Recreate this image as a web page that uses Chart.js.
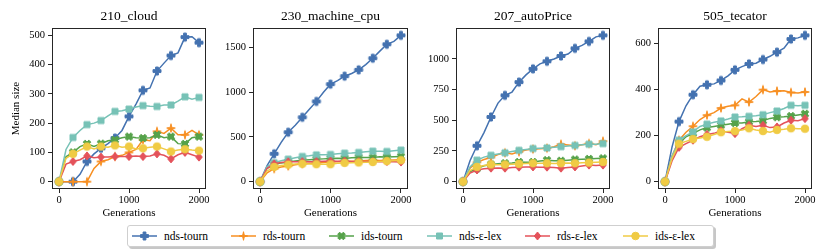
<!DOCTYPE html>
<html>
<head>
<meta charset="utf-8">
<script src="https://cdn.jsdelivr.net/npm/chart.js@4/dist/chart.umd.min.js"></script>
<style>
  body { margin: 0; width: 830px; height: 249px; background: #fff; position: relative; overflow: hidden;
         font-family: "Liberation Serif", "DejaVu Serif", serif; color: #000; }
  canvas { position: absolute; top: 0; }
  .ptitle { position: absolute; top: 7px; font-size: 13.5px; line-height: 17px; text-align: center; }
  #legend { position: absolute; left: 127px; top: 225px; width: 585px; height: 20px; border: 1px solid #cfcfcf;
            border-radius: 3px; background: #fff; box-shadow: 2px 2px 0 rgba(0,0,0,0.22); }
  .item { position: absolute; top: 0; height: 20px; }
  .item canvas { position: absolute; top: 4px; left: 0; }
  .item span { position: absolute; top: 2px; font-size: 11.5px; line-height: 16px; white-space: nowrap; }
</style>
</head>
<body>
<div id="legend"></div>
<script>
// x values (generations)
const generations = [0,100,200,300,400,500,600,700,800,900,1000,1100,1200,1300,1400,1500,1600,1700,1800,1900,2000];
const seriesNames = ['nds-tourn', 'rds-tourn', 'ids-tourn', 'nds-ε-lex', 'rds-ε-lex', 'ids-ε-lex'];
const seriesColors = ['#4472b0', '#f78f22', '#55a24a', '#77c2b6', '#e4525a', '#f0cb44'];
const seriesMarkers = ['plus', 'star', 'x', 'square', 'diamond', 'circle'];

// 210_cloud
const cloudNdsTourn = [0,0,0,25,69,95,114,130,149,175,223,265,312,320,378,405,431,440,494,495,475];
const cloudRdsTourn = [0,0,0,0,0,45,69,75,86,90,100,110,143,140,172,165,183,160,160,175,160];
const cloudIdsTourn = [0,85,100,120,129,120,130,140,143,150,154,150,149,150,160,150,154,130,129,150,154];
const cloudNdsLex = [0,110,151,175,195,200,209,225,240,242,248,255,260,258,257,262,262,275,290,282,288];
const cloudRdsLex = [0,60,69,75,88,82,84,84,86,86,86,88,86,88,95,90,78,92,100,92,84];
const cloudIdsLex = [0,80,95,108,120,112,120,118,124,118,120,112,114,118,120,112,103,108,111,108,106];

// 230_machine_cpu
const cpuNdsTourn = [0,180,312,440,553,630,720,810,898,1000,1091,1130,1180,1210,1251,1310,1381,1460,1537,1570,1637];
const cpuRdsTourn = [0,100,145,165,175,190,200,205,210,215,220,222,225,228,230,236,240,238,240,242,245];
const cpuIdsTourn = [0,150,190,210,220,232,240,245,250,255,260,262,260,268,270,270,270,278,275,280,282];
const cpuNdsLex = [0,170,212,235,252,268,282,290,300,302,304,312,319,322,327,335,341,340,338,345,353];
const cpuRdsLex = [0,150,200,215,223,222,225,224,225,228,230,228,230,226,225,226,225,223,225,222,220];
const cpuIdsLex = [0,120,165,180,190,198,200,198,195,196,195,205,210,212,215,218,220,226,230,235,240];

// 207_autoPrice
const autoNdsTourn = [0,170,292,400,527,640,703,730,811,870,919,960,981,1000,1024,1040,1086,1110,1143,1180,1192];
const autoRdsTourn = [0,110,157,180,197,220,235,225,243,258,265,268,273,285,305,298,292,300,311,300,330];
const autoIdsTourn = [0,80,108,130,140,145,150,152,160,158,160,168,175,170,170,175,180,182,185,188,190];
const autoNdsLex = [0,120,175,200,215,225,235,245,255,262,270,272,275,280,285,290,295,300,305,305,310];
const autoRdsLex = [0,70,95,105,110,112,110,115,118,120,120,118,118,115,110,115,120,128,135,132,135];
const autoIdsLex = [0,90,120,132,140,138,140,142,145,148,150,150,150,148,150,152,150,153,155,158,160];

// 505_tecator
const tecNdsTourn = [0,150,261,330,378,415,421,425,440,460,486,500,512,515,531,545,563,580,620,625,636];
const tecRdsTourn = [0,110,180,215,241,270,289,300,320,328,332,360,346,370,400,390,394,395,388,385,390];
const tecIdsTourn = [0,100,165,195,210,225,235,240,245,250,255,255,260,262,265,275,280,282,285,290,295];
const tecNdsLex = [0,110,180,200,216,240,250,258,264,272,281,282,284,286,291,300,307,318,332,330,332];
const tecRdsLex = [0,90,149,165,180,195,205,210,221,215,209,230,245,240,245,235,238,255,267,265,274];
const tecIdsLex = [0,100,165,175,185,190,195,205,215,218,220,225,232,225,220,215,225,228,232,230,230];

const panels = [
  { title: '210_cloud', left: 0, yw: 52, plotW: 154, ymin: -25, ymax: 525, yticks: [0,100,200,300,400,500],
    ylabel: 'Median size', series: [cloudNdsTourn, cloudRdsTourn, cloudIdsTourn, cloudNdsLex, cloudRdsLex, cloudIdsLex] },
  { title: '230_machine_cpu', left: 213, yw: 40, plotW: 155, ymin: -82, ymax: 1719, yticks: [0,500,1000,1500],
    series: [cpuNdsTourn, cpuRdsTourn, cpuIdsTourn, cpuNdsLex, cpuRdsLex, cpuIdsLex] },
  { title: '207_autoPrice', left: 416, yw: 40, plotW: 154, ymin: -60, ymax: 1252, yticks: [0,250,500,750,1000],
    series: [autoNdsTourn, autoRdsTourn, autoIdsTourn, autoNdsLex, autoRdsLex, autoIdsLex] },
  { title: '505_tecator', left: 618, yw: 40, plotW: 154, ymin: -32, ymax: 668, yticks: [0,200,400,600],
    series: [tecNdsTourn, tecRdsTourn, tecIdsTourn, tecNdsLex, tecRdsLex, tecIdsLex] }
];

const FONT = '"Liberation Serif", "DejaVu Serif", serif';
const INK = '#262626';

// draw one marker shape centred at (cx, cy)
function drawMarker(ctx, shape, color, cx, cy) {
  ctx.fillStyle = color;
  ctx.strokeStyle = color;
  ctx.lineWidth = 1;
  ctx.beginPath();
  if (shape === 'plus' || shape === 'x') {
    const r = 4, w = 1.4;
    const pts = [[-w,-r],[w,-r],[w,-w],[r,-w],[r,w],[w,w],[w,r],[-w,r],[-w,w],[-r,w],[-r,-w],[-w,-w]];
    const a = shape === 'x' ? Math.PI / 4 : 0;
    pts.forEach(([px, py], i) => {
      const x = cx + px * Math.cos(a) - py * Math.sin(a);
      const y = cy + px * Math.sin(a) + py * Math.cos(a);
      i ? ctx.lineTo(x, y) : ctx.moveTo(x, y);
    });
  } else if (shape === 'star') {
    for (let i = 0; i < 8; i++) {
      const r = i % 2 ? 1.1 : 4.3;
      const ang = i * Math.PI / 4 - Math.PI / 2;
      const x = cx + r * Math.cos(ang), y = cy + r * Math.sin(ang);
      i ? ctx.lineTo(x, y) : ctx.moveTo(x, y);
    }
  } else if (shape === 'square') {
    ctx.rect(cx - 3, cy - 3, 6, 6);
  } else if (shape === 'diamond') {
    ctx.moveTo(cx, cy - 4); ctx.lineTo(cx + 3.3, cy); ctx.lineTo(cx, cy + 4); ctx.lineTo(cx - 3.3, cy);
  } else {
    ctx.arc(cx, cy, 3.8, 0, Math.PI * 2);
  }
  ctx.closePath();
  ctx.fill();
  ctx.stroke();
}

function markerImage(shape, color) {
  const c = document.createElement('canvas');
  c.width = 12; c.height = 12;
  drawMarker(c.getContext('2d'), shape, color, 6, 6);
  return c;
}

const markerImages = seriesMarkers.map((m, i) => markerImage(m, seriesColors[i]));

const framePlugin = {
  id: 'frame',
  afterDraw(chart) {
    const { ctx, chartArea: a } = chart;
    ctx.save();
    ctx.strokeStyle = INK;
    ctx.lineWidth = 1;
    ctx.strokeRect(Math.round(a.left) + 0.5, Math.round(a.top) + 0.5,
                   Math.round(a.right - a.left) - 1, Math.round(a.bottom - a.top) - 1);
    ctx.restore();
  }
};

panels.forEach((p, k) => {
  const canvas = document.createElement('canvas');
  const w = p.yw + p.plotW + 8;
  canvas.width = w; canvas.height = 222;
  canvas.style.left = p.left + 'px';
  document.body.appendChild(canvas);

  const t = document.createElement('div');
  t.className = 'ptitle';
  t.textContent = p.title;
  t.style.left = (p.left + p.yw) + 'px';
  t.style.width = p.plotW + 'px';
  document.body.appendChild(t);

  const datasets = p.series.map((vals, i) => ({
    label: seriesNames[i],
    data: generations.map((g, j) => ({ x: g, y: vals[j] })),
    borderColor: seriesColors[i],
    backgroundColor: seriesColors[i],
    borderWidth: 1.5,
    pointStyle: markerImages[i],
    pointRadius: ctx => (ctx.raw && ctx.raw.x % 200 === 0) ? 4 : 0,
    pointHoverRadius: 0,
    tension: 0,
    fill: false,
    order: 6 - i
  }));

  new Chart(canvas, {
    type: 'line',
    data: { datasets },
    plugins: [framePlugin],
    options: {
      responsive: false,
      animation: false,
      events: [],
      layout: { padding: { top: 28, right: 8, bottom: 0, left: 0 } },
      plugins: { legend: { display: false }, tooltip: { enabled: false }, title: { display: false } },
      scales: {
        x: {
          type: 'linear', min: -100, max: 2100,
          afterBuildTicks: s => { s.ticks = [0, 1000, 2000].map(v => ({ value: v })); },
          afterFit: s => { s.height = 33; },
          grid: { display: true, drawOnChartArea: false, drawTicks: true, tickLength: 4, color: INK },
          border: { display: false },
          ticks: { color: '#000', padding: 1, maxRotation: 0, callback: v => String(v),
                   font: { family: FONT, size: 10.5 } },
          title: { display: true, text: 'Generations', color: '#000', padding: { top: 0, bottom: 2 },
                   font: { family: FONT, size: 11 } }
        },
        y: {
          type: 'linear', min: p.ymin, max: p.ymax,
          afterBuildTicks: s => { s.ticks = p.yticks.map(v => ({ value: v })); },
          afterFit: s => { s.width = p.yw; },
          grid: { display: true, drawOnChartArea: false, drawTicks: true, tickLength: 4, color: INK },
          border: { display: false },
          ticks: { color: '#000', padding: 3, callback: v => String(v), font: { family: FONT, size: 10.5 } },
          title: { display: !!p.ylabel, text: p.ylabel || '', color: '#000', padding: { top: 10, bottom: 0 },
                   font: { family: FONT, size: 11 } }
        }
      }
    }
  });
});

// legend
const legend = document.getElementById('legend');
const itemLeft = [4, 103, 201, 299, 397, 495];
seriesNames.forEach((name, i) => {
  const item = document.createElement('div');
  item.className = 'item';
  item.style.left = itemLeft[i] + 'px';
  const c = document.createElement('canvas');
  c.width = 28; c.height = 12;
  const ctx = c.getContext('2d');
  ctx.strokeStyle = seriesColors[i];
  ctx.lineWidth = 1.5;
  ctx.beginPath(); ctx.moveTo(0, 6); ctx.lineTo(25, 6); ctx.stroke();
  drawMarker(ctx, seriesMarkers[i], seriesColors[i], 12.5, 6);
  const s = document.createElement('span');
  s.style.left = '32px';
  s.textContent = name;
  item.appendChild(c);
  item.appendChild(s);
  legend.appendChild(item);
});
</script>
</body>
</html>
